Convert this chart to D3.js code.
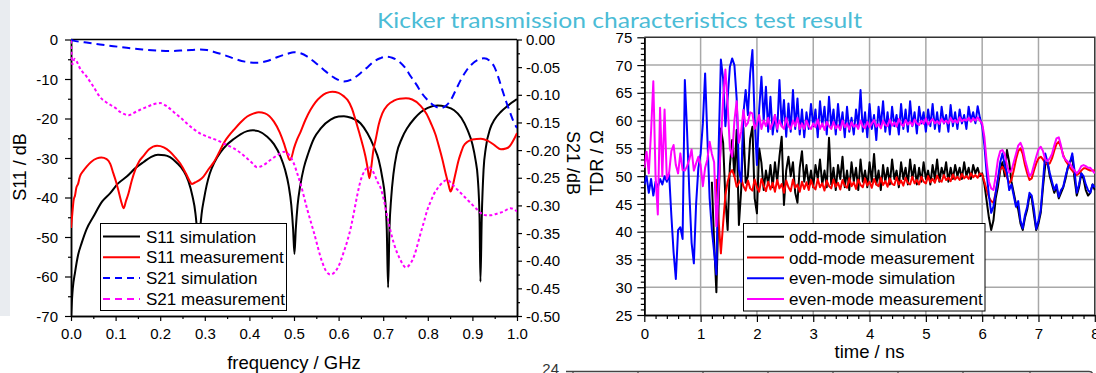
<!DOCTYPE html>
<html>
<head>
<meta charset="utf-8">
<script src="https://cdn.jsdelivr.net/npm/d3@7"></script>
<style>
  html, body { margin: 0; padding: 0; background: #fff; }
  svg { display: block; }
</style>
</head>
<body>
<svg id="chart" width="1096" height="373"></svg>
<script>
// ---------------- S-parameter sweep (left panel) ----------------
const s11SimFreq = [0.000,0.004,0.009,0.016,0.024,0.035,0.050,0.070,0.088,0.105,0.125,0.145,0.163,0.180,0.195,0.210,0.222,0.237,0.252,0.263,0.272,0.279,0.283,0.286,0.289,0.293,0.298,0.304,0.311,0.322,0.335,0.350,0.365,0.380,0.395,0.408,0.420,0.440,0.455,0.470,0.480,0.488,0.494,0.498,0.501,0.504,0.508,0.514,0.522,0.532,0.545,0.560,0.582,0.600,0.612,0.628,0.649,0.665,0.679,0.690,0.698,0.704,0.708,0.711,0.714,0.718,0.723,0.730,0.742,0.754,0.770,0.784,0.800,0.822,0.840,0.859,0.875,0.889,0.900,0.907,0.912,0.916,0.918,0.921,0.925,0.930,0.940,0.949,0.964,0.979,1.000];
const s11SimDb = [-70,-63,-59,-54.5,-51.5,-48,-44.9,-41,-38.9,-36.5,-34.7,-32.5,-31,-29.7,-29.2,-29.3,-29.8,-31.2,-33.2,-35.8,-39.5,-44,-49,-56,-49,-44,-40.5,-37,-34,-31,-28.6,-26.6,-25.2,-24,-23.2,-23,-23.2,-24.6,-26.5,-29.7,-33,-37,-42,-48,-54.3,-48,-42,-37,-32.5,-28.8,-25,-22.5,-20.3,-19.5,-19.4,-19.8,-21.2,-23.8,-27.1,-30.5,-35,-40,-48,-62.8,-48,-40,-34,-29,-25,-22.4,-20,-18.4,-17.3,-16.7,-17,-17.9,-19.8,-22.9,-26.5,-30.5,-35,-45,-61.3,-45,-33,-27.5,-22.5,-20.4,-18.3,-16.8,-15.1];

const s11MeasFreq = [0.000,0.003,0.006,0.009,0.012,0.016,0.020,0.028,0.035,0.045,0.058,0.068,0.080,0.088,0.095,0.101,0.106,0.112,0.118,0.123,0.129,0.136,0.144,0.153,0.163,0.175,0.193,0.208,0.222,0.235,0.245,0.258,0.266,0.271,0.278,0.288,0.297,0.310,0.320,0.332,0.342,0.355,0.365,0.380,0.395,0.410,0.421,0.435,0.455,0.468,0.478,0.485,0.490,0.494,0.500,0.507,0.515,0.525,0.537,0.548,0.560,0.572,0.586,0.600,0.612,0.620,0.630,0.638,0.646,0.653,0.660,0.665,0.669,0.673,0.678,0.683,0.690,0.698,0.710,0.724,0.737,0.751,0.765,0.784,0.797,0.807,0.817,0.825,0.833,0.840,0.846,0.851,0.855,0.859,0.863,0.868,0.874,0.880,0.889,0.900,0.919,0.934,0.950,0.964,0.975,0.983,0.992,1.000];
const s11MeasDb = [-47.7,-44,-40.6,-39.5,-37.5,-36.5,-34.7,-33.2,-32.2,-31,-30.1,-29.9,-30.3,-31.5,-33.9,-36,-38.1,-40.8,-42.7,-41,-38.9,-35.8,-33,-30.8,-29.4,-27.8,-26.9,-27.3,-28.4,-30,-31.4,-34,-35.8,-36.6,-36.2,-35.6,-34.7,-32.6,-31.1,-28.6,-26.3,-24.2,-22.9,-21,-19.5,-18.7,-18.4,-18.7,-20.8,-23.5,-26.5,-29,-30.5,-30,-27.5,-25.3,-23.3,-20.5,-17.8,-15.9,-14.5,-13.6,-13.2,-13.5,-14.4,-15.3,-17.5,-20.4,-23.5,-26.3,-29.5,-32.5,-35.1,-32.5,-28,-25.4,-21.5,-18.7,-16.6,-15.5,-15,-14.9,-15.2,-16.8,-18.8,-21.2,-24,-27.1,-30.5,-33.9,-36.5,-38.5,-37.5,-35.5,-33.5,-31,-28.8,-27,-25.9,-25.3,-25.1,-25.6,-26.8,-27.8,-27.6,-27.1,-25.5,-23.7];

const s21SimFreq = [0.000,0.005,0.030,0.065,0.095,0.125,0.160,0.193,0.220,0.245,0.270,0.290,0.305,0.319,0.340,0.364,0.390,0.417,0.440,0.462,0.485,0.500,0.515,0.530,0.548,0.567,0.590,0.612,0.630,0.649,0.665,0.679,0.693,0.706,0.720,0.736,0.750,0.762,0.775,0.784,0.800,0.815,0.829,0.842,0.852,0.863,0.874,0.886,0.897,0.912,0.926,0.938,0.949,0.958,0.967,0.976,0.985,0.993,1.000];
const s21SimDb = [0,-0.002,-0.005,-0.009,-0.012,-0.015,-0.018,-0.020,-0.021,-0.020,-0.019,-0.018,-0.019,-0.022,-0.027,-0.034,-0.040,-0.042,-0.039,-0.032,-0.026,-0.023,-0.025,-0.031,-0.042,-0.055,-0.069,-0.076,-0.072,-0.061,-0.050,-0.040,-0.034,-0.031,-0.033,-0.040,-0.052,-0.067,-0.082,-0.094,-0.110,-0.120,-0.124,-0.119,-0.109,-0.091,-0.073,-0.057,-0.046,-0.037,-0.034,-0.038,-0.049,-0.068,-0.091,-0.113,-0.133,-0.150,-0.160];

const s21MeasFreq = [0.000,0.003,0.008,0.013,0.020,0.035,0.050,0.065,0.078,0.088,0.100,0.110,0.120,0.129,0.140,0.155,0.170,0.185,0.200,0.215,0.230,0.245,0.260,0.275,0.290,0.310,0.327,0.345,0.365,0.380,0.395,0.407,0.417,0.430,0.447,0.465,0.478,0.490,0.500,0.508,0.515,0.530,0.545,0.563,0.572,0.582,0.591,0.601,0.610,0.620,0.628,0.634,0.642,0.649,0.658,0.668,0.678,0.687,0.694,0.702,0.709,0.716,0.724,0.737,0.751,0.762,0.770,0.778,0.784,0.792,0.799,0.807,0.814,0.822,0.829,0.837,0.844,0.855,0.867,0.878,0.889,0.900,0.910,0.919,0.930,0.940,0.955,0.970,0.985,1.000];
const s21MeasDb = [-0.002,-0.045,-0.035,-0.040,-0.052,-0.067,-0.085,-0.104,-0.113,-0.118,-0.124,-0.131,-0.135,-0.137,-0.133,-0.127,-0.122,-0.117,-0.115,-0.121,-0.131,-0.141,-0.152,-0.162,-0.170,-0.177,-0.182,-0.189,-0.197,-0.205,-0.215,-0.224,-0.231,-0.228,-0.218,-0.208,-0.203,-0.210,-0.225,-0.244,-0.262,-0.308,-0.350,-0.402,-0.419,-0.425,-0.421,-0.408,-0.388,-0.363,-0.338,-0.314,-0.281,-0.256,-0.238,-0.231,-0.240,-0.257,-0.268,-0.292,-0.320,-0.345,-0.369,-0.396,-0.412,-0.404,-0.390,-0.368,-0.350,-0.328,-0.308,-0.292,-0.279,-0.269,-0.262,-0.256,-0.254,-0.262,-0.272,-0.281,-0.290,-0.299,-0.307,-0.314,-0.318,-0.318,-0.315,-0.311,-0.305,-0.311];

const freqTicks = [0.0,0.1,0.2,0.3,0.4,0.5,0.6,0.7,0.8,0.9,1.0];
const s11Ticks = [0,-10,-20,-30,-40,-50,-60,-70];
const s21Ticks = [0.00,-0.05,-0.10,-0.15,-0.20,-0.25,-0.30,-0.35,-0.40,-0.45,-0.50];
const sLegend = ["S11 simulation","S11 measurement","S21 simulation","S21 measurement"];

// ---------------- TDR impedance (right panel), sampled every 0.04 ns ----------------
const tdrStep = 0.04;
const oddSim = [null,null,null,null,null,null,null,null,null,null,null,null,null,null,null,null,null,null,null,null,null,null,null,null,null,null,null,null,null,null,
  49.0,38.0,29.1,45.0,58.6,56.0,
  46.0,40.3,52.0,56.5,50.0,58.3,41.2,47.5,58.7,48.8,50.0,56.7,
  58.9,46.0,43.3,55.0,52.4,47.5,51.0,48.5,52.0,48.0,52.5,49.0,
  53.5,57.1,44.8,51.0,53.5,50.0,52.5,47.0,45.2,51.5,54.5,49.0,
  52.0,48.5,51.0,48.0,52.0,49.5,53.0,48.5,51.0,48.0,56.9,48.5,
  51.5,47.5,52.0,49.5,53.5,48.0,51.0,47.5,52.5,49.0,51.5,47.5,
  53.0,49.0,51.0,48.0,52.5,49.0,54.0,48.5,51.0,47.5,52.0,49.0,
  51.5,48.5,53.0,49.5,51.0,48.0,52.5,49.5,51.5,48.5,53.0,49.5,
  52.0,48.5,51.5,49.0,52.5,49.5,51.0,48.5,52.0,49.5,53.0,49.0,
  51.5,50.0,52.5,49.0,51.5,49.5,52.0,50.0,51.5,49.5,52.5,50.0,
  51.5,49.5,52.0,50.5,51.5,50.0,
  50.5,48.5,45.5,42.5,40.3,42.0,46.0,48.1,51.0,52.5,
  50.0,54.7,52.5,49.0,47.0,45.0,44.0,41.5,40.3,42.5,
  44.0,46.5,46.0,43.0,40.3,41.5,43.4,48.0,52.0,52.5,
  50.0,48.5,47.0,48.0,46.0,47.0,48.0,49.5,51.5,52.5,
  53.5,49.5,46.5,48.0,50.5,49.5,47.5,46.5,47.0,48.5,
  47.5];

const oddMeas = [null,null,null,null,null,null,null,null,null,null,null,null,null,null,null,null,null,null,null,null,null,null,null,null,null,null,null,null,null,null,null,null,
  49.5,42.0,36.1,41.5,
  46.5,49.0,50.5,51.1,50.0,48.1,48.8,49.6,48.2,47.4,49.2,47.8,
  47.4,49.4,48.0,47.2,49.5,48.3,47.3,49.0,47.6,48.8,47.2,49.3,
  47.8,48.6,47.0,49.2,48.0,47.3,49.4,47.9,48.5,47.2,49.0,47.7,
  48.9,47.5,49.3,48.1,47.6,49.5,48.0,48.7,47.4,49.2,48.2,47.8,
  49.4,48.1,48.8,47.6,49.3,48.3,47.9,49.6,48.2,48.9,47.7,49.4,
  48.4,48.0,49.6,48.3,49.0,47.9,49.5,48.5,48.2,49.7,48.4,49.1,
  48.1,49.6,48.6,48.4,49.8,48.5,49.2,48.3,49.7,48.8,48.5,49.9,
  48.7,49.3,48.5,49.9,49.0,48.7,50.0,48.9,49.5,48.8,50.1,49.2,
  49.0,50.2,49.3,49.7,49.1,50.3,49.4,49.9,49.3,50.4,49.6,50.0,
  49.5,50.5,49.8,50.2,49.7,50.5,
  50.3,49.0,47.5,46.2,45.5,45.2,47.0,49.5,51.2,51.7,
  51.0,49.8,48.8,49.3,51.0,53.0,54.5,55.0,54.0,52.0,
  50.5,49.3,49.6,51.0,52.3,53.2,53.5,53.0,52.4,52.1,
  52.3,53.2,54.6,55.8,56.2,55.2,53.8,52.8,52.2,51.5,
  51.0,50.5,50.2,50.5,51.0,51.4,51.4,51.2,51.0,51.0,
  51.0];

const evenSim = [
  48.5,50.0,47.0,49.5,46.5,49.0,48.0,49.5,48.5,50.0,49.0,50.5,
  43.0,36.3,31.5,40.3,40.8,38.7,67.3,58.0,47.0,38.0,34.3,45.0,
  51.5,54.0,59.5,68.5,57.0,46.0,40.3,36.3,32.3,55.0,71.0,67.5,
  59.0,64.0,69.7,71.2,70.0,64.0,51.1,49.0,61.3,65.5,61.0,68.5,
  72.7,60.0,52.0,62.0,67.9,60.0,66.1,58.0,64.3,57.5,61.0,58.0,
  67.3,59.0,63.7,57.1,63.1,58.0,65.5,58.5,64.0,57.5,62.0,57.0,
  61.5,58.5,63.0,59.0,62.0,57.0,63.5,59.0,62.5,57.5,64.3,59.0,
  62.0,57.5,63.0,58.5,61.5,57.0,62.5,58.0,60.5,57.5,62.0,59.0,
  65.5,58.0,61.5,57.0,63.0,58.5,61.0,56.5,62.5,59.0,63.5,58.0,
  61.5,57.5,62.5,59.0,61.0,57.5,63.0,58.5,62.0,58.0,63.5,59.0,
  61.5,57.7,62.5,59.5,61.5,58.0,62.0,59.0,63.0,58.5,61.5,58.0,
  62.5,59.5,61.0,58.0,62.8,59.0,61.5,58.5,62.0,59.5,61.0,58.5,
  62.5,60.0,61.5,59.5,62.6,60.5,
  59.0,55.5,50.5,46.5,43.4,44.5,47.0,49.5,52.5,54.1,
  52.0,50.6,47.5,48.5,46.5,44.5,45.5,42.0,40.6,43.0,
  44.5,47.0,46.5,44.0,40.5,42.0,43.9,49.0,54.1,52.5,
  50.6,49.0,47.5,48.5,46.3,47.5,48.1,50.0,51.5,52.5,
  54.1,51.0,47.0,48.5,50.5,50.0,48.5,47.5,47.0,48.5,
  48.0];

const evenMeas = [
  51.5,54.4,50.5,58.0,67.1,50.0,43.1,62.3,50.0,62.0,49.5,50.5,
  54.5,55.6,52.0,50.5,54.1,51.1,51.0,51.8,53.0,54.8,51.0,52.3,
  53.5,52.0,48.2,51.5,53.0,56.2,54.0,52.5,41.0,47.5,56.0,64.0,
  69.2,63.0,55.0,53.5,60.0,63.5,56.0,58.0,61.9,59.0,59.6,61.5,
  61.3,58.5,59.5,61.0,58.5,60.0,59.0,60.5,58.5,59.5,61.0,58.5,
  60.0,59.0,58.5,60.5,59.0,58.5,60.0,59.0,60.5,58.5,59.5,58.5,
  60.0,59.0,58.5,59.5,58.8,60.2,58.5,59.5,58.3,59.8,59.0,58.5,
  59.8,58.6,59.2,58.3,60.0,58.8,59.5,58.4,59.7,58.9,59.3,58.5,
  60.0,59.0,58.6,59.8,58.8,59.5,60.1,58.9,59.4,58.6,60.0,59.2,
  59.0,60.2,59.1,59.7,58.9,60.3,59.4,59.0,60.1,59.3,59.8,59.1,
  60.2,59.5,59.2,60.0,59.4,60.4,59.3,59.8,60.3,59.5,59.9,59.4,
  60.3,59.6,60.0,59.5,60.5,59.7,60.1,59.6,60.6,59.9,60.2,60.0,
  60.5,59.8,60.4,60.0,60.6,60.0,
  59.5,57.0,52.5,49.0,47.8,47.5,50.0,53.0,54.5,54.7,
  54.0,52.0,50.6,51.0,52.5,54.0,55.5,56.0,55.0,53.0,
  51.5,50.0,50.5,52.0,53.5,54.8,55.3,54.5,53.0,52.7,
  53.2,54.0,55.5,56.8,57.0,55.5,53.5,53.0,52.6,52.3,
  51.5,51.0,50.5,51.0,51.8,52.0,51.8,51.5,51.5,51.0,
  50.5];

const timeTicks = [0,1,2,3,4,5,6,7,8];
const tdrTicks = [25,30,35,40,45,50,55,60,65,70,75];
const tdrLegend = ["odd-mode simulation","odd-mode measurement","even-mode simulation","even-mode measurement"];

// ---------------- drawing ----------------
const FONT = "'Liberation Sans', Arial, sans-serif";
const svg = d3.select("#chart");

// slide background strip at the far left
svg.append("rect").attr("x", 0).attr("y", 0).attr("width", 10).attr("height", 316).attr("fill", "#e9ecf0");

// slide heading
svg.append("text")
  .attr("x", 377).attr("y", 28)
  .attr("textLength", 485).attr("lengthAdjust", "spacingAndGlyphs")
  .attr("font-family", "Lato, 'Open Sans', sans-serif").attr("font-size", 22)
  .attr("fill", "#4bbcd6")
  .text("Kicker transmission characteristics test result");

const hyphen = s => s.replace("\u2212", "-");
function styleAxis(g, size) {
  g.attr("font-family", FONT).attr("font-size", size);
  g.selectAll(".domain").attr("stroke", "#000").attr("stroke-width", 1.5);
  g.selectAll(".tick line").attr("stroke", "#000").attr("stroke-width", 1.2);
  g.selectAll("text").attr("fill", "#000");
}

// ===== left panel: S-parameters =====
const fx = d3.scaleLinear([0, 1], [71, 517]);
const s11y = d3.scaleLinear([-70, 0], [316, 39.5]);
const s21y = d3.scaleLinear([-0.5, 0], [316, 39.5]);

const L = svg.append("g");
L.append("clipPath").attr("id", "clipL").append("rect")
  .attr("x", 71).attr("y", 38).attr("width", 446).attr("height", 279);

const minorF = d3.range(0, 21).map(i => i * 0.05).filter(v => Math.round(v * 100) % 10 !== 0);
L.append("g").attr("transform", "translate(0,316)")
  .call(d3.axisBottom(fx).tickValues(minorF).tickFormat("").tickSizeInner(3).tickSizeOuter(0))
  .call(g => styleAxis(g, 15));
L.append("g").attr("transform", "translate(0,316)")
  .call(d3.axisBottom(fx).tickValues(freqTicks).tickFormat(d => d.toFixed(1)).tickSizeInner(5).tickSizeOuter(0))
  .call(g => styleAxis(g, 15))
  .call(g => g.selectAll("text").attr("y", 23).attr("dy", 0));

const minorS11 = [-5, -15, -25, -35, -45, -55, -65];
L.append("g").attr("transform", "translate(71,0)")
  .call(d3.axisLeft(s11y).tickValues(minorS11).tickFormat("").tickSizeInner(3).tickSizeOuter(0))
  .call(g => styleAxis(g, 15));
L.append("g").attr("transform", "translate(71,0)")
  .call(d3.axisLeft(s11y).tickValues(s11Ticks).tickFormat(d => String(d)).tickSizeInner(6).tickSizeOuter(0))
  .call(g => styleAxis(g, 15))
  .call(g => g.selectAll("text").attr("x", -13).attr("dy", "0.34em"));

const minorS21 = d3.range(0, 20).map(i => -0.025 - i * 0.025).filter(v => Math.round(v * 1000) % 50 !== 0);
L.append("g").attr("transform", "translate(517,0)")
  .call(d3.axisRight(s21y).tickValues(minorS21).tickFormat("").tickSizeInner(3).tickSizeOuter(0))
  .call(g => styleAxis(g, 15));
L.append("g").attr("transform", "translate(517,0)")
  .call(d3.axisRight(s21y).tickValues(s21Ticks).tickFormat(d => hyphen(d3.format(".2f")(d))).tickSizeInner(5).tickSizeOuter(0))
  .call(g => styleAxis(g, 15))
  .call(g => g.selectAll("text").attr("x", 9).attr("dy", "0.34em"));

// top frame
L.append("line").attr("x1", 71).attr("x2", 517).attr("y1", 39.5).attr("y2", 39.5)
  .attr("stroke", "#000").attr("stroke-width", 1.5);

const sSeries = [
  { f: s11SimFreq, v: s11SimDb, y: s11y, color: "#000000", dash: null },
  { f: s11MeasFreq, v: s11MeasDb, y: s11y, color: "#ff0000", dash: null },
  { f: s21SimFreq, v: s21SimDb, y: s21y, color: "#0000ff", dash: "8,5" },
  { f: s21MeasFreq, v: s21MeasDb, y: s21y, color: "#ff00ff", dash: "3,2.5" }
];
const plotL = L.append("g").attr("clip-path", "url(#clipL)");
sSeries.forEach(s => {
  const pts = s.f.map((f, i) => [f, s.v[i]]);
  const line = d3.line().x(d => fx(d[0])).y(d => s.y(d[1])).curve(d3.curveMonotoneX);
  plotL.append("path").attr("d", line(pts))
    .attr("fill", "none").attr("stroke", s.color).attr("stroke-width", 2)
    .attr("stroke-dasharray", s.dash);
});

// axis titles
L.append("text").attr("transform", "translate(26,167) rotate(-90)")
  .attr("text-anchor", "middle").attr("font-family", FONT).attr("font-size", 18).text("S11 / dB");
L.append("text").attr("transform", "translate(567,163) rotate(90)")
  .attr("text-anchor", "middle").attr("font-family", FONT).attr("font-size", 18).text("S21 /dB");
L.append("text").attr("x", 294).attr("y", 368.5)
  .attr("text-anchor", "middle").attr("font-family", FONT).attr("font-size", 18.5).text("frequency / GHz");

// legend
const legL = L.append("g");
legL.append("rect").attr("x", 100.5).attr("y", 223.5).attr("width", 186).attr("height", 87)
  .attr("fill", "#fff").attr("stroke", "#000").attr("stroke-width", 1);
sLegend.forEach((name, i) => {
  const cy = 236.5 + i * 20.8;
  legL.append("line").attr("x1", 103).attr("x2", 140).attr("y1", cy).attr("y2", cy)
    .attr("stroke", sSeries[i].color).attr("stroke-width", 2)
    .attr("stroke-dasharray", sSeries[i].dash ? "7,5" : null);
  legL.append("text").attr("x", 146).attr("y", cy + 6)
    .attr("font-family", FONT).attr("font-size", 17).text(name);
});

// ===== right panel: TDR =====
const tx = d3.scaleLinear([0, 8], [644.3, 1094.8]);
const ty = d3.scaleLinear([25, 75], [315, 37.3]);
const R = svg.append("g");
R.append("clipPath").attr("id", "clipR").append("rect")
  .attr("x", 644.3).attr("y", 37).attr("width", 451).attr("height", 278);

// grid
R.append("g").selectAll("line").data(timeTicks.filter(t => t > 0 && t < 8)).join("line")
  .attr("x1", d => tx(d)).attr("x2", d => tx(d)).attr("y1", 37.3).attr("y2", 315)
  .attr("stroke", "#a8a8a8").attr("stroke-width", 1.5);
R.append("g").selectAll("line").data(tdrTicks.filter(v => v > 25 && v < 75)).join("line")
  .attr("x1", 644.3).attr("x2", 1094.8).attr("y1", d => ty(d)).attr("y2", d => ty(d))
  .attr("stroke", "#a8a8a8").attr("stroke-width", 1.5);

const minorT = d3.range(0, 41).map(i => i * 0.2).filter(v => Math.abs(v - Math.round(v)) > 1e-6);
R.append("g").attr("transform", "translate(0,315)")
  .call(d3.axisBottom(tx).tickValues(minorT).tickFormat("").tickSizeInner(4).tickSizeOuter(0))
  .call(g => styleAxis(g, 15));
R.append("g").attr("transform", "translate(0,315)")
  .call(d3.axisBottom(tx).tickValues(timeTicks).tickFormat(d => String(d)).tickSizeInner(7).tickSizeOuter(0))
  .call(g => styleAxis(g, 15))
  .call(g => g.selectAll("text").attr("y", 24).attr("dy", 0));

const minorZ = d3.range(25, 76).filter(v => v % 5 !== 0);
R.append("g").attr("transform", "translate(644.3,0)")
  .call(d3.axisLeft(ty).tickValues(minorZ).tickFormat("").tickSizeInner(3.5).tickSizeOuter(0))
  .call(g => styleAxis(g, 15));
R.append("g").attr("transform", "translate(644.3,0)")
  .call(d3.axisLeft(ty).tickValues(tdrTicks).tickFormat(d => String(d)).tickSizeInner(7).tickSizeOuter(0))
  .call(g => styleAxis(g, 15))
  .call(g => g.selectAll("text").attr("x", -12).attr("dy", "0.34em"));

// frame top / right
R.append("path").attr("d", `M644.3,37.3H1094.8V315`)
  .attr("fill", "none").attr("stroke", "#333").attr("stroke-width", 1.5);

const tdrSeries = [
  { v: oddSim, color: "#000000" },
  { v: oddMeas, color: "#ff0000" },
  { v: evenSim, color: "#0000ff" },
  { v: evenMeas, color: "#ff00ff" }
];
const plotR = R.append("g").attr("clip-path", "url(#clipR)");
tdrSeries.forEach(s => {
  const line = d3.line()
    .defined(d => d != null)
    .x((d, i) => tx(i * tdrStep))
    .y(d => ty(d));
  plotR.append("path").attr("d", line(s.v))
    .attr("fill", "none").attr("stroke", s.color).attr("stroke-width", 2)
    .attr("stroke-linejoin", "round");
});

R.append("text").attr("transform", "translate(603,163) rotate(-90)")
  .attr("text-anchor", "middle").attr("font-family", FONT).attr("font-size", 18).text("TDR / \u03A9");
R.append("text").attr("x", 869.5).attr("y", 358)
  .attr("text-anchor", "middle").attr("font-family", FONT).attr("font-size", 18.5).text("time / ns");

const legR = R.append("g");
legR.append("rect").attr("x", 743.5).attr("y", 223.5).attr("width", 241.5).attr("height", 87.5)
  .attr("fill", "#fff").attr("stroke", "#000").attr("stroke-width", 1);
tdrLegend.forEach((name, i) => {
  const cy = 236.7 + i * 20.8;
  legR.append("line").attr("x1", 747).attr("x2", 784).attr("y1", cy).attr("y2", cy)
    .attr("stroke", tdrSeries[i].color).attr("stroke-width", 2);
  legR.append("text").attr("x", 789).attr("y", cy + 6)
    .attr("font-family", FONT).attr("font-size", 17).text(name);
});

// next panel's top edge peeking in at the bottom
const B = svg.append("g");
B.append("text").attr("x", 559).attr("y", 373.5).attr("text-anchor", "end")
  .attr("font-family", FONT).attr("font-size", 15).attr("fill", "#333").text("24");
B.append("path").attr("d", "M566,371.5H1089Q1093,371.5 1093,375.5")
  .attr("fill", "none").attr("stroke", "#444").attr("stroke-width", 1.3);
B.append("g").selectAll("line").data([573, 638, 703, 768, 833, 898, 963, 1030]).join("line")
  .attr("x1", d => d).attr("x2", d => d).attr("y1", 371.5).attr("y2", 375)
  .attr("stroke", "#444").attr("stroke-width", 1.2);
</script>
</body>
</html>
